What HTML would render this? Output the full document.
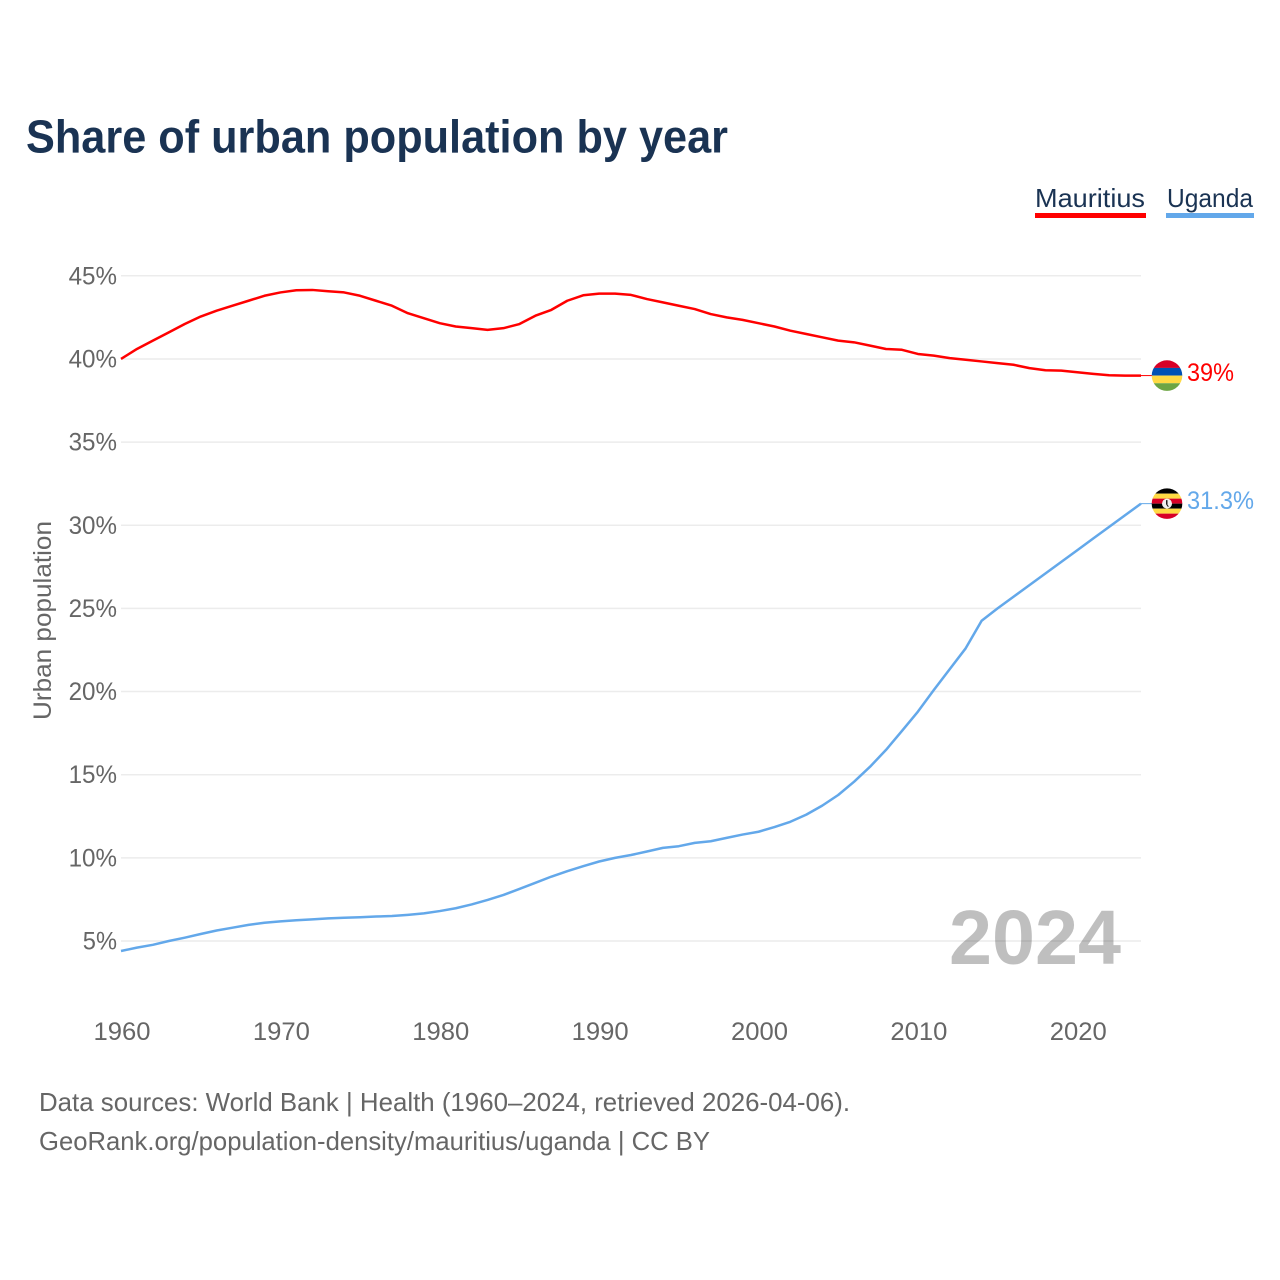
<!DOCTYPE html>
<html lang="en">
<head>
<meta charset="utf-8">
<title>Share of urban population by year</title>
<style>
  html, body { margin: 0; padding: 0; background: #fff; }
  svg { display: block; font-family: "Liberation Sans", sans-serif; }
</style>
</head>
<body>
<svg id="chart" xmlns="http://www.w3.org/2000/svg" width="1280" height="1280" viewBox="0 0 1280 1280">
  <defs>
    <clipPath id="flag-clip"><circle cx="0" cy="0" r="15.3"></circle></clipPath>
  </defs>
  <rect x="0" y="0" width="1280" height="1280" fill="#ffffff"></rect>
  <text x="26" y="152.5" font-size="46" font-weight="700" fill="#1a3353" textLength="702" lengthAdjust="spacingAndGlyphs">Share of urban population by year</text>

  <g>
    <g>
      <text x="1035" y="207" font-size="26" fill="#1a3353" textLength="110" lengthAdjust="spacingAndGlyphs">Mauritius</text>
      <rect x="1035" y="213" width="111" height="5" fill="#ff0000"></rect>
    </g>
    <g>
      <text x="1167" y="207" font-size="26" fill="#1a3353" textLength="86" lengthAdjust="spacingAndGlyphs">Uganda</text>
      <rect x="1166" y="213" width="88" height="5" fill="#63a8ea"></rect>
    </g>
  </g>

  <g id="grid"></g>
  <g id="y-axis"></g>
  <g id="x-axis"></g>
  <text transform="translate(51,720) rotate(-90)" font-size="25" fill="#666666" textLength="199" lengthAdjust="spacingAndGlyphs">Urban population</text>
  <text id="year-watermark" x="949" y="964" font-size="77" font-weight="700" fill="#000000" fill-opacity="0.25" textLength="172" lengthAdjust="spacingAndGlyphs"></text>
  <g id="series"></g>

  <g id="flag-mauritius" clip-path="url(#flag-clip)">
    <rect x="-16" y="-16" width="32" height="8.35" fill="#d80027"></rect>
    <rect x="-16" y="-7.65" width="32" height="7.65" fill="#0052b4"></rect>
    <rect x="-16" y="0" width="32" height="7.65" fill="#ffda44"></rect>
    <rect x="-16" y="7.65" width="32" height="8.35" fill="#6da544"></rect>
  </g>
  <g id="flag-uganda" clip-path="url(#flag-clip)">
    <rect x="-16" y="-16" width="32" height="6" fill="#000000"></rect>
    <rect x="-16" y="-10" width="32" height="5" fill="#ffda44"></rect>
    <rect x="-16" y="-5" width="32" height="5" fill="#d80027"></rect>
    <rect x="-16" y="0" width="32" height="5" fill="#000000"></rect>
    <rect x="-16" y="5" width="32" height="5" fill="#ffda44"></rect>
    <rect x="-16" y="10" width="32" height="6" fill="#d80027"></rect>
    <circle cx="0" cy="0" r="5" fill="#f0f0f0"></circle>
    <path d="M-1-3.5 L0.5-3.5 L0.5 1 L2 3 L0.5 3 L-1 0.5 Z" fill="#222222"></path>
  </g>

  <text x="39" y="1111" font-size="26" fill="#666666" textLength="811" lengthAdjust="spacingAndGlyphs">Data sources: World Bank | Health (1960–2024, retrieved 2026-04-06).</text>
  <text x="39" y="1150" font-size="26" fill="#666666" textLength="671" lengthAdjust="spacingAndGlyphs">GeoRank.org/population-density/mauritius/uganda | CC BY</text>
</svg>

<script>
const years = [1960,1961,1962,1963,1964,1965,1966,1967,1968,1969,1970,1971,1972,1973,1974,1975,1976,1977,1978,1979,1980,1981,1982,1983,1984,1985,1986,1987,1988,1989,1990,1991,1992,1993,1994,1995,1996,1997,1998,1999,2000,2001,2002,2003,2004,2005,2006,2007,2008,2009,2010,2011,2012,2013,2014,2015,2016,2017,2018,2019,2020,2021,2022,2023,2024];
const mauritiusValues = [40.0,40.6,41.1,41.6,42.1,42.55,42.9,43.2,43.5,43.8,44.0,44.13,44.15,44.07,44.0,43.8,43.5,43.2,42.75,42.45,42.15,41.95,41.85,41.75,41.85,42.1,42.6,42.95,43.5,43.83,43.93,43.93,43.85,43.6,43.4,43.2,43.0,42.7,42.5,42.35,42.15,41.95,41.7,41.5,41.3,41.1,41.0,40.8,40.6,40.55,40.3,40.2,40.05,39.95,39.85,39.75,39.65,39.45,39.32,39.3,39.2,39.1,39.02,39.0,39.0];
const ugandaValues = [4.4,4.6,4.77,5.0,5.2,5.42,5.63,5.8,5.97,6.1,6.18,6.25,6.3,6.36,6.4,6.43,6.47,6.5,6.57,6.66,6.8,6.97,7.2,7.47,7.77,8.13,8.5,8.87,9.2,9.5,9.78,10.0,10.17,10.38,10.6,10.7,10.9,11.0,11.2,11.4,11.57,11.85,12.17,12.6,13.14,13.78,14.58,15.48,16.49,17.63,18.79,20.09,21.35,22.6,24.26,25.0,25.7,26.4,27.1,27.8,28.5,29.2,29.9,30.6,31.3];
const yTickValues = [5,10,15,20,25,30,35,40,45];
const xTickValues = [1960,1970,1980,1990,2000,2010,2020];

const NS = 'http://www.w3.org/2000/svg';
const plotLeft = 121, plotRight = 1141;
const xScale = function (year) { return plotLeft + (year - years[0]) * (plotRight - plotLeft) / (years[years.length - 1] - years[0]); };
const yScale = function (value) { return 941 - (value - 5) * 16.63; };

function make(tag, attrs, parent, text) {
  const el = document.createElementNS(NS, tag);
  for (const k in attrs) el.setAttribute(k, attrs[k]);
  if (text !== undefined) el.textContent = text;
  parent.appendChild(el);
  return el;
}

const gridGroup = document.getElementById('grid');
const yAxisGroup = document.getElementById('y-axis');
const xAxisGroup = document.getElementById('x-axis');
const seriesGroup = document.getElementById('series');

yTickValues.forEach(function (v) {
  const line = make('line', { x1: plotLeft, x2: plotRight, y1: yScale(v), y2: yScale(v), stroke: '#ececec', 'stroke-width': 1.5 }, gridGroup);
  
  
  const label = v + '%';
  const tick = make('text', { x: 117, y: yScale(v) + 8.5, 'font-size': 25, fill: '#666666', 'text-anchor': 'end', textLength: (label.length - 1) * 14.2 + 20, lengthAdjust: 'spacingAndGlyphs' }, yAxisGroup, label);
  
  
});

xTickValues.forEach(function (year) {
  const tick = make('text', { x: xScale(year) + 1, y: 1040, 'font-size': 25, fill: '#666666', 'text-anchor': 'middle', textLength: 57, lengthAdjust: 'spacingAndGlyphs' }, xAxisGroup, String(year));
  
  
});

function pathFor(values) {
  return values.map(function (v, i) { return (i ? 'L' : 'M') + xScale(years[i]).toFixed(2) + ' ' + yScale(v).toFixed(2); }).join(' ');
}

const mauritiusLine = make('path', { d: pathFor(mauritiusValues), fill: 'none', stroke: '#ff0000', 'stroke-width': 2.5, 'stroke-linejoin': 'round' }, seriesGroup);



const ugandaLine = make('path', { d: pathFor(ugandaValues), fill: 'none', stroke: '#63a8ea', 'stroke-width': 2.5, 'stroke-linejoin': 'round' }, seriesGroup);



const lastMauritius = mauritiusValues[mauritiusValues.length - 1];
const lastUganda = ugandaValues[ugandaValues.length - 1];

const mauritiusConnector = make('line', { x1: plotRight, x2: 1152, y1: yScale(lastMauritius), y2: yScale(lastMauritius), stroke: '#ff0000', 'stroke-width': 1 }, seriesGroup);



const ugandaConnector = make('line', { x1: plotRight, x2: 1152, y1: yScale(lastUganda), y2: yScale(lastUganda), stroke: '#63a8ea', 'stroke-width': 1 }, seriesGroup);



document.getElementById('flag-mauritius').setAttribute('transform', 'translate(1167,' + yScale(lastMauritius) + ')');
document.getElementById('flag-uganda').setAttribute('transform', 'translate(1167,' + yScale(lastUganda) + ')');

const mauritiusValueLabel = make('text', { x: 1187, y: yScale(lastMauritius) + 5.5, 'font-size': 25, fill: '#ff0000', textLength: 47, lengthAdjust: 'spacingAndGlyphs' }, seriesGroup, lastMauritius + '%');



const ugandaValueLabel = make('text', { x: 1187, y: yScale(lastUganda) + 5.5, 'font-size': 25, fill: '#63a8ea', textLength: 67, lengthAdjust: 'spacingAndGlyphs' }, seriesGroup, lastUganda + '%');



document.getElementById('year-watermark').textContent = String(years[years.length - 1]);
</script>
</body>
</html>
